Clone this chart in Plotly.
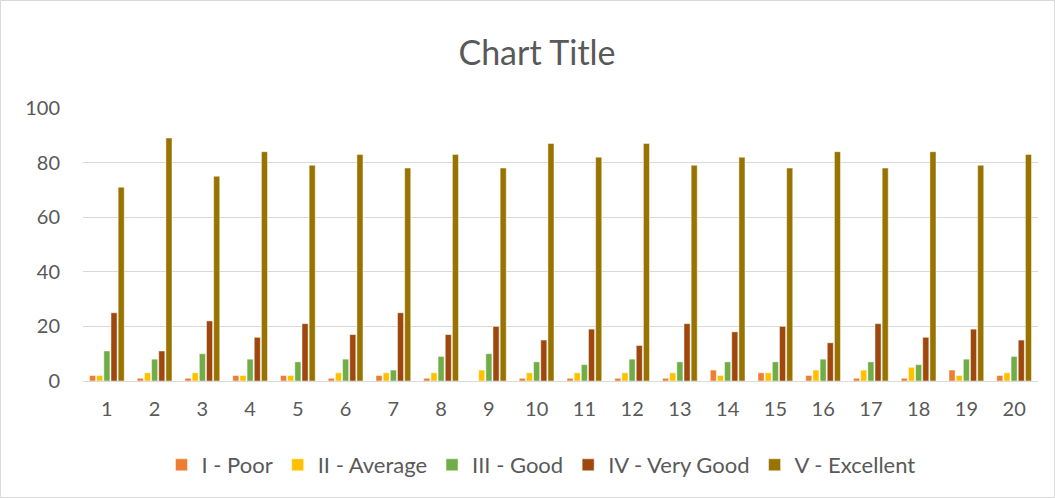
import plotly.graph_objects as go

categories = [str(i) for i in range(1, 21)]
poor = [2, 1, 1, 2, 2, 1, 2, 1, 0, 1, 1, 1, 1, 4, 3, 2, 1, 1, 4, 2]
average = [2, 3, 3, 2, 2, 3, 3, 3, 4, 3, 3, 3, 3, 2, 3, 4, 4, 5, 2, 3]
good = [11, 8, 10, 8, 7, 8, 4, 9, 10, 7, 6, 8, 7, 7, 7, 8, 7, 6, 8, 9]
very_good = [25, 11, 22, 16, 21, 17, 25, 17, 20, 15, 19, 13, 21, 18, 20, 14, 21, 16, 19, 15]
excellent = [71, 89, 75, 84, 79, 83, 78, 83, 78, 87, 82, 87, 79, 82, 78, 84, 78, 84, 79, 83]

series = [
    ("I - Poor", poor, "#ED7D31"),
    ("II - Average", average, "#FFC000"),
    ("III - Good", good, "#70AD47"),
    ("IV - Very Good", very_good, "#9E480E"),
    ("V - Excellent", excellent, "#997300"),
]

fig = go.Figure()
for name, vals, color in series:
    fig.add_trace(go.Bar(
        x=categories, y=vals, name=name,
        marker=dict(color=color, line=dict(color="rgba(255,255,255,0.6)", width=0.8)),
    ))

W, H = 1055, 498
ml, mr, mt, mb = 83, 17, 108, 117
pw, ph = W - ml - mr, H - mt - mb

fig.update_layout(
    width=W, height=H,
    margin=dict(l=ml, r=mr, t=mt, b=mb, autoexpand=False),
    paper_bgcolor="white", plot_bgcolor="white",
    barmode="group", bargap=0.25, bargroupgap=0.15,
    font=dict(family="Lato, Open Sans, sans-serif", color="#595959", size=20),
    title=dict(text="Chart Title", x=537 / W, xanchor="center", xref="container",
               y=1 - 53 / H, yanchor="middle", yref="container",
               font=dict(size=34, color="#595959")),
    legend=dict(orientation="h", x=(541 - ml) / pw, xanchor="center",
                y=(H - mb - 465) / ph, yanchor="middle",
                font=dict(size=22, color="#595959"), traceorder="normal"),
    xaxis=dict(type="category", showgrid=False, showline=True, linecolor="#D9D9D9",
               linewidth=1, ticks="", ticklabelstandoff=10,
               tickfont=dict(size=20, color="#595959")),
    yaxis=dict(range=[0, 100], dtick=20, showgrid=True, gridcolor="#D9D9D9", gridwidth=1,
               zeroline=False, showline=False, ticks="", ticklen=0, ticklabelstandoff=22,
               tickfont=dict(size=20, color="#595959")),
    shapes=[dict(type="rect", xref="paper", yref="paper",
                 x0=(0.5 - ml) / pw, x1=(W - 0.5 - ml) / pw,
                 y0=-(mb - 0.5) / ph, y1=1 + (mt - 0.5) / ph,
                 line=dict(color="#D9D9D9", width=1), fillcolor="rgba(0,0,0,0)", layer="below")],
)

fig.write_html("out.html", config={"displayModeBar": False},
               post_script="document.body.style.margin='0';")
